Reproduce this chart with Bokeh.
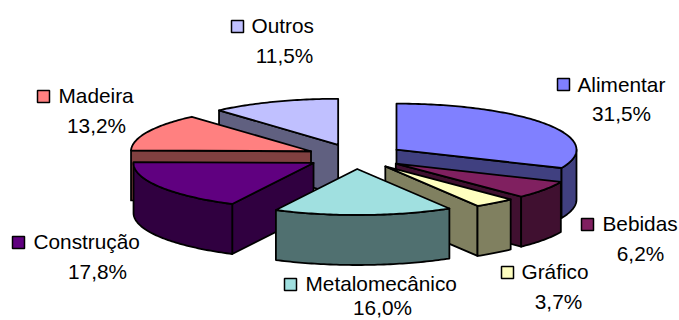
import math
from bokeh.plotting import figure
from bokeh.embed import file_html
from bokeh.resources import INLINE
from bokeh.core.properties import value

# Sector shares of the exploded 3-D pie, clockwise from twelve o'clock
sectors = ["Alimentar", "Bebidas", "Gráfico", "Metalomecânico", "Construção", "Madeira", "Outros"]
shares = [31.5, 6.2, 3.7, 16.0, 17.8, 13.2, 11.5]
labels = ["31,5%", "6,2%", "3,7%", "16,0%", "17,8%", "13,2%", "11,5%"]
top_colors = ["#8080FF", "#802060", "#FFFFC0", "#A0E0E0", "#600080", "#FF8080", "#C0C0FF"]
side_colors = ["#404080", "#401030", "#808060", "#507070", "#300040", "#804040", "#606080"]

# Back-to-front painting order
paint_order = [6, 5, 0, 1, 2, 4, 3]

# Projection of the pie on the page
CX, CY = 355, 156
RX, RY = 180, 46
DEPTH = 50
EXPLODE = 49

# Legend swatch centre, name start and mid-height, percentage centre (page pixels)
swatch_xy = [(563, 84), (587, 224), (507, 272), (290, 284), (18, 242), (43, 96), (237, 26)]
name_xy = [(577, 84), (602, 223), (521, 271), (305, 283), (33, 241), (58, 95), (251, 25)]
pct_xy = [(621, 113), (640, 253), (558, 301), (382, 307), (97, 271), (96, 125), (284, 55)]

p = figure(width=679, height=320, x_range=(0, 679), y_range=(320, 0),
           output_backend="svg", toolbar_location=None,
           min_border=0, outline_line_color=None, background_fill_color="white")
p.axis.visible = False
p.grid.visible = False


def on_ellipse(ax, ay, deg):
    a = math.radians(deg)
    return ax + RX * math.sin(a), ay - RY * math.cos(a)


def face(xs, ys, color):
    p.patch(xs, ys, fill_color=color, line_color="black", line_width=1.8, line_join="round")


total = sum(shares)
starts, ends, acc = [], [], 0.0
for s in shares:
    starts.append(acc / total * 360)
    acc += s
    ends.append(acc / total * 360)

for i in paint_order:
    a0, a1 = starts[i], ends[i]
    mid = math.radians((a0 + a1) / 2)
    ax = CX + EXPLODE * math.sin(mid)
    ay = CY - EXPLODE * RY / RX * math.cos(mid)

    # Radial walls that face the viewer
    for ang, visible in ((a0, math.sin(math.radians(a0)) < 0), (a1, math.sin(math.radians(a1)) > 0)):
        if visible:
            ex, ey = on_ellipse(ax, ay, ang)
            face([ax, ex, ex, ax], [ay, ey, ey + DEPTH, ay + DEPTH], side_colors[i])

    # Curved outer wall, front half only
    lo, hi = max(a0, 90), min(a1, 270)
    if hi > lo:
        steps = max(2, int(hi - lo))
        rim = [on_ellipse(ax, ay, lo + (hi - lo) * k / steps) for k in range(steps + 1)]
        xs = [q[0] for q in rim] + [q[0] for q in reversed(rim)]
        ys = [q[1] for q in rim] + [q[1] + DEPTH for q in reversed(rim)]
        face(xs, ys, side_colors[i])

    # Top face
    steps = max(2, int(a1 - a0))
    rim = [on_ellipse(ax, ay, a0 + (a1 - a0) * k / steps) for k in range(steps + 1)]
    face([ax] + [q[0] for q in rim], [ay] + [q[1] for q in rim], top_colors[i])

# Labels: swatch and name, percentage underneath
font = value("Liberation Sans")
p.scatter([q[0] for q in swatch_xy], [q[1] for q in swatch_xy], marker="square", size=12,
          fill_color=top_colors, line_color="black", line_width=1.5)
p.text([q[0] for q in name_xy], [q[1] for q in name_xy], text=sectors, text_font=font,
       text_font_size="20.8px", text_color="black", text_baseline="middle", text_align="left")
p.text([q[0] for q in pct_xy], [q[1] for q in pct_xy], text=labels, text_font=font,
       text_font_size="20.8px", text_color="black", text_baseline="middle", text_align="center")

open("out.html", "w").write(file_html(p, INLINE))
